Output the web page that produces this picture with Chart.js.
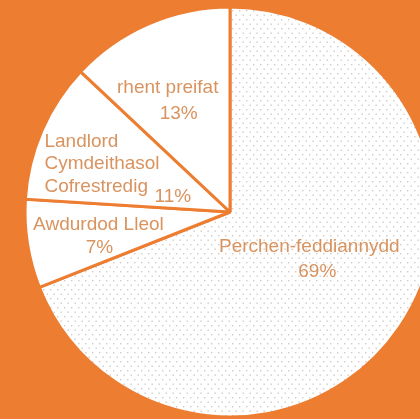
<!DOCTYPE html>
<html>
<head>
<meta charset="utf-8">
<script src="https://cdn.jsdelivr.net/npm/chart.js@4.4.0/dist/chart.umd.min.js"></script>
<style>
  html, body { margin: 0; padding: 0; background: #ED7D31; }
  #wrap { width: 420px; height: 419px; position: relative; }
</style>
</head>
<body>
<div id="wrap"><canvas id="myChart"></canvas></div>
<script>
'use strict';

// data, clockwise from 12 o'clock
let categories = ['Perchen-feddiannydd', 'Awdurdod Lleol', 'Landlord Cymdeithasol Cofrestredig', 'rhent preifat'];
let shares = [69, 7, 11, 13];
let shareLabels = ['69%', '7%', '11%', '13%'];

let orange = '#ED7D31';
let textColor = '#D9935F';

// dotted fill for the big slice
function dotPattern() {
  let c = document.createElement('canvas');
  c.width = 7;
  c.height = 9;
  let g = c.getContext('2d');
  g.fillStyle = '#ffffff';
  g.fillRect(0, 0, 7, 9);
  g.fillStyle = '#cfcac5';
  g.fillRect(1, 1, 1.4, 1.4);
  g.fillRect(4.5, 5.5, 1.4, 1.4);
  return g.createPattern(c, 'repeat');
}

// where each label sits: fraction of radius on the slice middle, then line offsets
let labelSpots = [
  { frac: 0.45, lines: [
    { text: 'Perchen-feddiannydd', dx: 3, dy: -12, align: 'center' },
    { pct: true, dx: 11, dy: 13, align: 'center' }] },
  { frac: 0.63, lines: [
    { text: 'Awdurdod Lleol', dx: -4, dy: -2, align: 'center' },
    { pct: true, dx: -3, dy: 21, align: 'center' }] },
  { frac: 0.63, lines: [
    { text: 'Landlord', dx: -67, dy: -14, align: 'left' },
    { text: 'Cymdeithasol', dx: -67, dy: 8, align: 'left' },
    { text: 'Cofrestredig', dx: -67, dy: 31, align: 'left' },
    { pct: true, dx: 43, dy: 41, align: 'left' }] },
  { frac: 0.63, lines: [
    { text: 'rhent preifat', dx: -11, dy: 0, align: 'center' },
    { pct: true, dx: 0, dy: 26, align: 'center' }] }
];

let sliceLabels = {
  id: 'sliceLabels',
  afterDatasetsDraw(chart) {
    let ctx = chart.ctx;
    let meta = chart.getDatasetMeta(0);
    ctx.save();
    ctx.fillStyle = textColor;
    ctx.font = '19px "Liberation Sans", Arial, sans-serif';
    ctx.textBaseline = 'alphabetic';
    meta.data.forEach(function (arc, i) {
      let p = arc.getProps(['x', 'y', 'startAngle', 'endAngle', 'outerRadius'], true);
      let mid = (p.startAngle + p.endAngle) / 2;
      let r = p.outerRadius * labelSpots[i].frac;
      let ax = p.x + Math.cos(mid) * r;
      let ay = p.y + Math.sin(mid) * r;
      labelSpots[i].lines.forEach(function (ln) {
        ctx.textAlign = ln.align;
        ctx.fillText(ln.pct ? shareLabels[i] : ln.text, ax + ln.dx, ay + ln.dy);
      });
    });
    ctx.restore();
  }
};

let ctx = document.getElementById('myChart').getContext('2d');
let pattern = dotPattern();
let myChart = new Chart(ctx, {
  type: 'pie',
  data: {
    labels: categories,
    datasets: [{
      data: shares,
      backgroundColor: [pattern, '#ffffff', '#ffffff', '#ffffff'],
      borderColor: orange,
      borderWidth: 3,
      borderAlign: 'center',
      radius: 205,
      clip: false
    }]
  },
  options: {
    responsive: true,
    maintainAspectRatio: false,
    animation: false,
    layout: { padding: { left: 40, top: 5, right: 0, bottom: 0 } },
    plugins: {
      legend: { display: false },
      tooltip: { enabled: false }
    }
  },
  plugins: [sliceLabels]
});
</script>
</body>
</html>
